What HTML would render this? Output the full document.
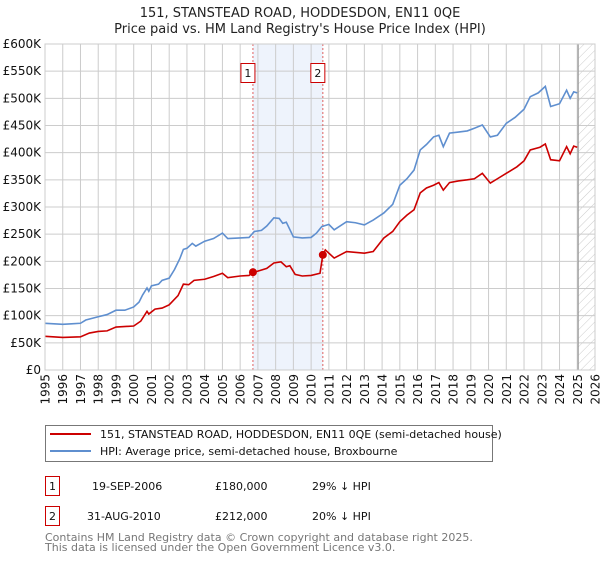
<!DOCTYPE html>
<html><head><meta charset="utf-8"><style>
body{margin:0;background:#fff;font-family:"DejaVu Sans","Liberation Sans",sans-serif;}
svg text{font-family:"DejaVu Sans","Liberation Sans",sans-serif;}
</style></head><body>
<svg id="c" width="600" height="560" xmlns="http://www.w3.org/2000/svg">
<text x="300" y="17" text-anchor="middle" font-size="13" fill="#222">151, STANSTEAD ROAD, HODDESDON, EN11 0QE</text>
<text x="300" y="33" text-anchor="middle" font-size="13" fill="#222">Price paid vs. HM Land Registry's House Price Index (HPI)</text>
<defs><pattern id="hatch" width="6" height="6" patternUnits="userSpaceOnUse" patternTransform="rotate(45)"><line x1="0" y1="0" x2="0" y2="6" stroke="#ccc" stroke-width="1"/></pattern></defs>
<g id="grid"></g><g id="marks"></g><g id="axes"></g>
<g>
<rect x="45.5" y="425.5" width="447" height="36" fill="#fff" stroke="#777"/>
<line x1="50" y1="434" x2="91" y2="434" stroke="#cc0000" stroke-width="2"/>
<text x="100" y="438" font-size="11" fill="#111">151, STANSTEAD ROAD, HODDESDON, EN11 0QE (semi-detached house)</text>
<line x1="50" y1="451" x2="91" y2="451" stroke="#5f8fcf" stroke-width="2"/>
<text x="100" y="455" font-size="11" fill="#111">HPI: Average price, semi-detached house, Broxbourne</text>
</g>
<g font-size="11" fill="#111">
<rect x="45.5" y="476.5" width="14" height="19" fill="#fff" stroke="#cc0000"/><text x="52.5" y="490" text-anchor="middle">1</text>
<text x="92" y="490">19-SEP-2006</text><text x="215" y="490">£180,000</text><text x="312" y="490">29% ↓ HPI</text>
<rect x="45.5" y="506.5" width="14" height="19" fill="#fff" stroke="#cc0000"/><text x="52.5" y="520" text-anchor="middle">2</text>
<text x="87" y="520">31-AUG-2010</text><text x="215" y="520">£212,000</text><text x="312" y="520">20% ↓ HPI</text>
</g>
<text x="45" y="541" font-size="11" fill="#777">Contains HM Land Registry data © Crown copyright and database right 2025.</text>
<text x="45" y="551" font-size="11" fill="#777">This data is licensed under the Open Government Licence v3.0.</text>
</svg>
<script>
const hpiYears=[1995,1995.5,1996,1996.5,1997,1997.3,1998,1998.5,1999,1999.5,2000,2000.3,2000.5,2000.75,2000.85,2001,2001.4,2001.6,2002,2002.3,2002.6,2002.8,2003,2003.3,2003.5,2004,2004.5,2005,2005.3,2006,2006.5,2006.8,2007.2,2007.5,2007.9,2008.2,2008.4,2008.6,2009,2009.5,2010,2010.3,2010.6,2011,2011.3,2012,2012.5,2013,2013.5,2014.1,2014.6,2015,2015.4,2015.8,2016.15,2016.5,2016.9,2017.2,2017.45,2017.8,2018.3,2018.8,2019.2,2019.65,2020.1,2020.5,2021,2021.5,2022,2022.35,2022.8,2023.2,2023.5,2024,2024.4,2024.6,2024.8,2025];
const hpiValues=[86,85,84,85,86,92,98,102,110,110,116,125,138,151,145,155,158,165,169,185,205,222,224,233,228,237,242,252,242,243,244,255,257,265,280,279,270,272,245,243,244,252,264,268,258,273,271,267,276,289,305,340,352,368,405,415,429,432,411,436,438,440,445,451,429,432,454,465,480,503,510,522,485,490,515,500,512,510];
const ppYears=[1995,1996,1997,1997.5,1998,1998.5,1999,2000,2000.4,2000.75,2000.85,2001.2,2001.6,2002,2002.5,2002.8,2003.1,2003.4,2004,2004.5,2005,2005.3,2006,2006.5,2006.72,2007,2007.5,2007.9,2008.3,2008.6,2008.8,2009.1,2009.5,2010,2010.5,2010.66,2010.8,2011.3,2012,2013,2013.5,2014.1,2014.6,2015,2015.4,2015.8,2016.15,2016.5,2016.9,2017.2,2017.45,2017.8,2018.3,2018.8,2019.2,2019.65,2020.1,2020.5,2021,2021.6,2022,2022.35,2022.9,2023.2,2023.5,2024,2024.4,2024.6,2024.8,2025];
const ppValues=[62,60,61,68,71,72,79,81,90,108,103,112,114,120,137,158,157,165,167,172,178,170,173,174,180,182,187,197,199,190,192,176,173,174,178,212,221,206,218,215,218,243,255,273,285,295,326,335,340,345,331,345,348,350,352,362,344,352,362,374,385,405,410,416,387,385,411,398,412,410];
const saleYears=[2006.72,2010.66];
const saleValues=[180,212];
const saleLabels=["1","2"];
const yTicks=[0,50,100,150,200,250,300,350,400,450,500,550,600];
const yTickLabels=["£0","£50K","£100K","£150K","£200K","£250K","£300K","£350K","£400K","£450K","£500K","£550K","£600K"];
const xTicks=[1995,1996,1997,1998,1999,2000,2001,2002,2003,2004,2005,2006,2007,2008,2009,2010,2011,2012,2013,2014,2015,2016,2017,2018,2019,2020,2021,2022,2023,2024,2025,2026];
const dataEnd=2025.05;
const X0=45,X1=595,Y0=370,Y1=44;
const xs=y=>X0+(y-1995)/(2026-1995)*(X1-X0);
const ys=v=>Y0-v/600*(Y0-Y1);
const NS="http://www.w3.org/2000/svg";
function mk(parent,tag,attrs){const e=document.createElementNS(NS,tag);for(const k in attrs)e.setAttribute(k,attrs[k]);document.getElementById(parent).appendChild(e);return e;}
// shaded ownership region
const sh=mk('grid','rect',{x:xs(saleYears[0]),y:Y1,width:xs(saleYears[1])-xs(saleYears[0]),height:Y0-Y1,fill:'#eef3fc'});


const ht=mk('grid','rect',{x:xs(dataEnd),y:Y1,width:X1-xs(dataEnd),height:Y0-Y1,fill:'url(#hatch)'});


yTicks.forEach((v,i)=>{
  const l=mk('grid','line',{x1:X0,x2:X1,y1:ys(v),y2:ys(v),stroke:'#ccc','stroke-width':1});
  
  
  const t=mk('axes','text',{x:X0-4,y:ys(v)+4,'text-anchor':'end','font-size':12,fill:'#111'});
  
  
  t.textContent=yTickLabels[i];
});
xTicks.forEach(yr=>{
  const l=mk('grid','line',{x1:xs(yr),x2:xs(yr),y1:Y1,y2:Y0,stroke:'#ccc','stroke-width':1});
  
  
  const t=mk('axes','text',{x:0,y:0,transform:`translate(${xs(yr)+4.5},${Y0+4}) rotate(-90)`,'text-anchor':'end','font-size':12,fill:'#111'});
  
  
  t.textContent=yr;
});
const el=mk('grid','line',{x1:xs(dataEnd),x2:xs(dataEnd),y1:Y1,y2:Y0,stroke:'#999','stroke-width':1.2});


saleYears.forEach((yr,i)=>{
  const l=mk('grid','line',{x1:xs(yr),x2:xs(yr),y1:Y1,y2:Y0,stroke:'#e06060','stroke-width':1,'stroke-dasharray':'2,2'});
  
  
  const b=mk('axes','rect',{x:xs(yr)-12,y:63.5,width:14,height:19,fill:'#fff',stroke:'#cc0000'});
  
  
  const t=mk('axes','text',{x:xs(yr)-5,y:77,'text-anchor':'middle','font-size':11,fill:'#111'});
  
  
  t.textContent=saleLabels[i];
});
const hp=mk('marks','polyline',{points:hpiYears.map((y,i)=>xs(y)+','+ys(hpiValues[i])).join(' '),fill:'none',stroke:'#5f8fcf','stroke-width':1.6});


const pp=mk('marks','polyline',{points:ppYears.map((y,i)=>xs(y)+','+ys(ppValues[i])).join(' '),fill:'none',stroke:'#cc0000','stroke-width':1.6});


saleYears.forEach((yr,i)=>{
  const c=mk('marks','circle',{cx:xs(yr),cy:ys(saleValues[i]),r:4,fill:'#cc0000'});
  
  
});
const fr=mk('axes','rect',{x:X0,y:Y1,width:X1-X0,height:Y0-Y1,fill:'none',stroke:'#ccc'});


</script>
</body></html>
